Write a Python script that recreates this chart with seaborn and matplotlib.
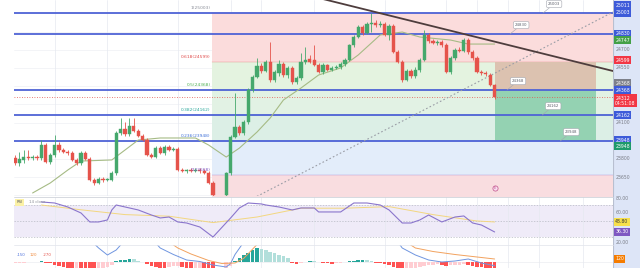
import matplotlib
matplotlib.use("Agg")
import matplotlib.pyplot as plt
import matplotlib.transforms as mtransforms
import numpy as np
import seaborn as sns

sns.set_theme(style="white")
plt.rcParams["font.family"] = ["DejaVu Sans"]

# ---------------- daily candles (sessions 46 and 47 are empty) ----------------
candle_idx = list(range(0, 46)) + list(range(48, 110))
opens = [23808, 23767, 23792, 23816, 23808, 23816, 23808, 23915, 23775, 23833,
         23915, 23874, 23858, 23849, 23792, 23767, 23849, 23800, 23627, 23602,
         23635, 23627, 23627, 23684, 24014, 24047, 24006, 24072, 24031, 23989,
         23956, 23833, 23816, 23890, 23849, 23899, 23874, 23882, 23709, 23701,
         23709, 23701, 23709, 23701, 23684, 23602,
         23503, 23684, 23981, 24064, 24014, 24105, 24368, 24476, 24566, 24525,
         24599, 24451, 24508, 24583, 24492, 24550, 24434, 24467, 24599, 24624,
         24616, 24574, 24517, 24574, 24533, 24550, 24558, 24583, 24616, 24739,
         24805, 24888, 24838, 24912, 24920, 24904, 24912, 24822, 24896, 24682,
         24599, 24451, 24525, 24484, 24533, 24616, 24822, 24772, 24756, 24764,
         24739, 24517, 24632, 24698, 24690, 24780, 24682, 24632, 24517, 24508,
         24492, 24410]
closes = [23767, 23800, 23816, 23808, 23816, 23808, 23915, 23775, 23833, 23915,
          23874, 23858, 23849, 23792, 23767, 23849, 23800, 23627, 23602, 23635,
          23627, 23635, 23684, 24014, 24047, 24006, 24072, 24031, 23989, 23956,
          23833, 23816, 23890, 23849, 23899, 23874, 23882, 23709, 23701, 23709,
          23701, 23709, 23701, 23684, 23602, 23503,
          23684, 23981, 24064, 24014, 24105, 24368, 24476, 24566, 24525, 24599,
          24451, 24517, 24583, 24492, 24550, 24434, 24467, 24599, 24616, 24599,
          24574, 24517, 24574, 24533, 24550, 24558, 24583, 24616, 24739, 24805,
          24888, 24838, 24912, 24920, 24904, 24912, 24822, 24896, 24682, 24599,
          24451, 24525, 24484, 24533, 24616, 24822, 24772, 24756, 24764, 24739,
          24517, 24632, 24698, 24690, 24780, 24682, 24632, 24517, 24508, 24500,
          24410, 24312]
highs = [23833, 23858, 23874, 23874, 23833, 23833, 23956, 23932, 23849, 23998,
         23940, 23890, 23874, 23866, 23808, 23866, 23866, 23816, 23643, 23652,
         23652, 23643, 23701, 24031, 24138, 24105, 24138, 24138, 24047, 24006,
         23973, 23849, 23907, 23907, 23915, 23915, 23899, 23899, 23726, 23717,
         23726, 23726, 23726, 23717, 23701, 23619,
         23693, 23998, 24344, 24080, 24121, 24385, 24492, 24632, 24591, 24616,
         24764, 24533, 24616, 24599, 24566, 24566, 24484, 24673, 24723, 24657,
         24739, 24591, 24591, 24583, 24566, 24574, 24599, 24632, 24747, 24822,
         24904, 24904, 24929, 25003, 24945, 24937, 24929, 24912, 24912, 24698,
         24616, 24541, 24541, 24558, 24632, 24863, 24838, 24789, 24780, 24780,
         24756, 24649, 24714, 24723, 24797, 24797, 24698, 24649, 24533, 24525,
         24508, 24418]
lows = [23750, 23742, 23767, 23792, 23792, 23792, 23792, 23767, 23759, 23816,
        23858, 23849, 23833, 23783, 23750, 23750, 23792, 23619, 23586, 23594,
        23610, 23619, 23619, 23668, 23998, 23989, 23989, 24022, 23981, 23948,
        23825, 23808, 23808, 23841, 23833, 23866, 23866, 23701, 23693, 23684,
        23693, 23693, 23684, 23676, 23594, 23495,
        23495, 23668, 23973, 23998, 23998, 24088, 24352, 24467, 24508, 24517,
        24434, 24434, 24484, 24476, 24467, 24418, 24418, 24451, 24583, 24591,
        24566, 24508, 24500, 24525, 24525, 24541, 24541, 24566, 24607, 24723,
        24797, 24822, 24830, 24846, 24888, 24888, 24813, 24780, 24673, 24591,
        24434, 24443, 24467, 24467, 24517, 24607, 24756, 24747, 24739, 24723,
        24508, 24500, 24616, 24682, 24682, 24665, 24616, 24508, 24492, 24484,
        24401, 24294]

# moving average of the closes
ma_idx = [4, 8, 12, 15, 22, 25, 28, 33, 41, 44, 48, 51, 55, 58, 61, 65, 69, 74,
          78, 83, 88, 92, 99, 103, 109]
ma_val = [23520, 23602, 23709, 23783, 23792, 23874, 23956, 23973, 23973, 23915,
          23816, 23890, 24022, 24138, 24286, 24385, 24492, 24550, 24657, 24822,
          24846, 24805, 24780, 24747, 24747]

# horizontal levels and their callouts
hline_prices = [25003, 24830, 24368, 24162, 23948]
callout_idx = [120.0, 112.5, 111.8, 119.8, 123.9]

# fibonacci retracement
fib_ratios = ["1", "0.618", "0.5", "0.382", "0.236", "0", "-0.236"]
fib_prices = [25003, 24599, 24368, 24162, 23948, 23668, 23353]
fib_start = 44.8
fib_fill = ["#fbdcdc", "#e4f3e0", "#e2f2e4", "#dcefe6", "#e3edfa", "#f9dde0"]
fib_text = ["#8a8d97", "#e04a4a", "#4caf50", "#26a69a", "#3f6fd8", "#7e57c2", "#e04a4a"]

# trend lines (index, price)
down_line = [(60, 25208), (136, 24524)]
up_dotted = [(53.4, 23462), (135.9, 25011)]

# short position tool
pos_start, pos_end = 109, 132
pos_entry, pos_stop, pos_target = 24368, 24599, 23948

# RSI and its moving average
rsi_idx = [6, 9, 12, 15, 17, 19, 21, 22, 23, 26, 28, 31, 33, 35, 37, 39, 42, 45,
           49, 51, 53, 56, 57, 60, 63, 65, 68, 69, 74, 77, 80, 83, 85, 88, 90, 92,
           94, 97, 100, 102, 104, 106, 109]
rsi_val = [73.8, 72.5, 67.5, 60.0, 48.8, 48.8, 51.3, 63.8, 70.0, 66.3, 63.8, 57.5,
           53.8, 55.0, 48.8, 47.5, 42.5, 30.0, 53.8, 66.3, 72.5, 71.3, 70.0, 67.5,
           63.8, 66.3, 66.3, 61.3, 61.3, 72.5, 72.5, 70.0, 63.8, 47.5, 47.5, 51.3,
           57.5, 48.8, 55.0, 56.3, 47.5, 45.0, 36.3]
rsi_ma_idx = [6, 15, 25, 35, 45, 55, 65, 75, 85, 95, 105, 109]
rsi_ma_val = [70, 64, 58, 56, 48, 55, 66, 66, 68, 58, 50, 48.8]

# MACD histogram (one value per candle) and lines
macd_hist = [-40, -30, -20, -10, 10, 20, 30, -20, -30, -120, -160, -200, -240, -260,
             -230, -300, -340, -380, -400, -360, -250, -180, -100, 40, 80, 100, 120,
             110, 60, 20, -80, -150, -200, -230, -260, -200, -160, -150, -180, -220,
             -260, -240, -230, -250, -300, -350,
             -300, -150, 60, 180, 280, 380, 500, 560, 520, 480, 420, 360, 300, 240,
             180, -40, -60, -30, 20, 40, 30, 10, -30, -50, -60, -40, -20, 20, 30, 60,
             90, 100, 80, 60, -20, -40, -60, -120, -200, -260, -300, -280, -250,
             -220, -180, -150, -120, -100, -90, -110, -140, -130, -110, -100, -90,
             -120, -160, -190, -210, -230, -250, -270]
macd_idx = [0, 10, 17, 19, 21, 23, 24, 26, 29, 31, 33, 36, 39, 42, 45, 48, 49, 50,
            52, 54, 60, 70, 80, 85, 88, 91, 94, 97, 100, 103, 106, 109]
macd_val = [1400, 1200, 900, 560, 280, 480, 680, 1100, 1300, 950, 560, 300, 80, 20,
            -120, -200, -60, 300, 800, 1300, 1800, 1500, 1700, 1300, 560, 280, 80,
            0, 40, 120, -40, -150]
signal_idx = [0, 20, 30, 33, 37, 40, 44, 47, 50, 52, 55, 58, 65, 80, 86, 88, 91,
              95, 100, 105, 109]
signal_val = [1500, 1300, 1200, 1050, 560, 320, 60, -60, -40, 150, 700, 1200, 1600,
              1650, 1300, 900, 560, 420, 300, 200, 120]

price_ticks = [23500, 23650, 23800, 23950, 24100, 24250, 24400, 24550, 24700,
               24850, 25000]
rsi_ticks = [80, 60, 40, 20]
grid_x = [9, 21, 37, 49, 56, 68, 84, 98, 105, 112, 119, 129]

UP, DOWN = "#45a86c", "#e5534b"
BLUE_LINE = "#4f63d6"
XLIM = (-0.23, 135.9)
MAIN_LIM = (23495, 25110)
RSI_LIM = (20, 80)
MACD_LIM = (-240, 680)

fig = plt.figure(figsize=(6.4, 2.68), dpi=100)
fig.patch.set_facecolor("white")


def rect(x0, y0, x1, y1):
    return [x0 / 640, 1 - y1 / 268, (x1 - x0) / 640, (y1 - y0) / 268]


strip = fig.add_axes(rect(613, 0, 640, 268))
strip.set_facecolor("#dde5f7")
strip.set_xticks([]); strip.set_yticks([])
for s in strip.spines.values():
    s.set_visible(False)
strip.axvline(0, color="#b8bfd0", lw=0.8)

ax = fig.add_axes(rect(14, 0, 613, 196))
ax_rsi = fig.add_axes(rect(14, 197, 613, 245))
ax_macd = fig.add_axes(rect(14, 245, 613, 268))

for a in (ax, ax_rsi, ax_macd):
    a.set_xlim(*XLIM)
    a.set_xticks([]); a.set_yticks([])
    a.set_facecolor("white")
    for s in a.spines.values():
        s.set_visible(False)
    for gx in grid_x:
        a.axvline(gx, color="#e6e9f0", lw=0.5, zorder=0.8)

ax.set_ylim(*MAIN_LIM)
ax_rsi.set_ylim(*RSI_LIM)
ax_macd.set_ylim(*MACD_LIM)

fig.add_artist(plt.Line2D([14 / 640, 613 / 640], [1 - 196.5 / 268] * 2, color="#d0d3da", lw=0.6))
fig.add_artist(plt.Line2D([14 / 640, 613 / 640], [1 - 245 / 268] * 2, color="#e0e3ea", lw=0.5))

# ---- main pane ----
for t in price_ticks:
    ax.axhline(t, color="#eef0f4", lw=0.5, zorder=0.7)

for k in range(len(fib_prices) - 1):
    ax.fill_between([fib_start, XLIM[1]], fib_prices[k + 1], fib_prices[k],
                    color=fib_fill[k], lw=0, zorder=1)
for r, p, c in zip(fib_ratios, fib_prices, fib_text):
    ax.plot([fib_start, XLIM[1]], [p, p], color=c, lw=0.35, alpha=0.5, zorder=1.1)
    ax.text(fib_start - 0.4, p + 25, f"{r}({p})", color=c, fontsize=3.2,
            ha="right", va="bottom", zorder=6, clip_on=True)

# position tool
ax.fill_between([pos_start, pos_end], pos_entry, pos_stop, color="#dcc2b0", lw=0, zorder=1.5)
ax.fill_between([pos_start, pos_end], pos_target, pos_entry, color="#94d2b2", lw=0, zorder=1.5)

for p in hline_prices:
    ax.axhline(p, color=BLUE_LINE, lw=1.3, zorder=2)

ax.axhline(closes[-1], color="#e5534b", lw=0.6, ls=(0, (1, 2)), zorder=2.2)

(x0, y0), (x1, y1) = up_dotted
ax.plot([x0, x1], [y0, y1], color="#9a9da6", lw=0.8, ls=(0, (1.5, 2)), zorder=3)
(x0, y0), (x1, y1) = down_line
ax.plot([x0, x1], [y0, y1], color="#4e3d3d", lw=1.3, zorder=3)

sns.lineplot(x=ma_idx, y=ma_val, ax=ax, color="#a6bb85", lw=0.8, zorder=3.5, legend=False)
ax.set_xlim(*XLIM); ax.set_ylim(*MAIN_LIM)
ax.set_xlabel(""); ax.set_ylabel("")

o = np.array(opens); c = np.array(closes); h = np.array(highs); l = np.array(lows)
xi = np.array(candle_idx)
cols = np.where(c >= o, UP, DOWN)
ax.vlines(xi, l, h, colors=cols, lw=0.6, zorder=4)
ax.bar(xi, c - o, bottom=o, width=0.72, color=cols, edgecolor=cols, lw=0.3, zorder=4.5)

for x_c, p in zip(callout_idx, hline_prices):
    ax.annotate(f"{p}", xy=(x_c, p), xytext=(3.5, 5), textcoords="offset points",
                fontsize=2.8, color="#5d606b", ha="left", va="bottom",
                bbox=dict(boxstyle="round,pad=0.4", fc="white", ec="#a3a6af", lw=0.4),
                arrowprops=dict(arrowstyle="-", color="#a3a6af", lw=0.4,
                                shrinkA=0, shrinkB=0),
                zorder=12, annotation_clip=False)

ev_tr = mtransforms.blended_transform_factory(ax.transData, ax.transAxes)
ax.scatter([candle_idx[-1]], [0.04], transform=ev_tr, s=14, facecolor="#f8dcef",
           edgecolor="#c2508a", lw=0.5, zorder=8)
ax.text(candle_idx[-1], 0.04, "E", transform=ev_tr, fontsize=2.4, color="#c2508a",
        ha="center", va="center", zorder=9)


def axis_text(a, value, text, fc=None, tc="white", dy=0, fs=3.3):
    tr = mtransforms.blended_transform_factory(a.transAxes, a.transData)
    tr = tr + mtransforms.ScaledTranslation(2.2 / 100, dy / 100, fig.dpi_scale_trans)
    kw = {}
    if fc is not None:
        kw["bbox"] = dict(boxstyle="square,pad=0.3", fc=fc, ec="none")
    a.text(1, value, text, transform=tr, fontsize=fs, color=tc, ha="left",
           va="center", clip_on=False, zorder=20 if fc else 15,
           linespacing=1.0, **kw)


def tags_and_ticks(a, lim, height_px, tags, ticks, fmt, edge=2):
    """Draw colored value tags, then the plain tick labels that stay clear of them."""
    scale = height_px / (lim[1] - lim[0])
    spans = []
    for value, text, fc, tc, dy in tags:
        axis_text(a, value, text, fc=fc, tc=tc, dy=dy)
        half = 3.5 * (text.count("\n") + 1)
        spans.append(((value - lim[0]) * scale + dy, half))
    for t in ticks:
        ty = (t - lim[0]) * scale
        if ty < edge or ty > height_px - edge:
            continue
        if any(abs(ty - cy) < half + 3 for cy, half in spans):
            continue
        axis_text(a, t, fmt(t), tc="#7b7e88", dy=(2 if ty <= 0 else (-2 if ty >= height_px else 0)))


main_tags = [
    (up_dotted[1][1], f"{up_dotted[1][1]}", "#3d5bd9", "white", 7),
    (hline_prices[0], f"{hline_prices[0]}", "#3d5bd9", "white", 0),
    (hline_prices[1], f"{hline_prices[1]}", "#3d5bd9", "white", 0),
    (ma_val[-1], f"{ma_val[-1]}", "#43a047", "white", 4),
    (pos_stop, f"{pos_stop}", "#f23645", "white", 2),
    (pos_entry, f"{pos_entry}", "#7d808a", "white", 7),
    (hline_prices[2], f"{hline_prices[2]}", "#3d5bd9", "white", 0),
    (closes[-1], f"{closes[-1]}\n04:51:08", "#f23645", "white", -4),
    (hline_prices[3], f"{hline_prices[3]}", "#3d5bd9", "white", 0),
    (hline_prices[4], f"{hline_prices[4]}", "#3d5bd9", "white", 1),
    (pos_target, f"{pos_target}", "#1e9a6a", "white", -5),
]
tags_and_ticks(ax, MAIN_LIM, 196, main_tags, price_ticks, lambda t: f"{t}")

# ---- RSI pane ----
ax_rsi.axhspan(30, 70, color="#efebf8", lw=0, zorder=0.5)
for lvl in (70, 50, 30):
    ax_rsi.axhline(lvl, color="#b7bac4", lw=0.5, ls=(0, (2, 2)), zorder=1)
sns.lineplot(x=rsi_ma_idx, y=rsi_ma_val, ax=ax_rsi, color="#f3d77f", lw=0.7,
             zorder=2, legend=False)
sns.lineplot(x=rsi_idx, y=rsi_val, ax=ax_rsi, color="#8a75cc", lw=0.8, zorder=3,
             legend=False)
ax_rsi.set_xlim(*XLIM); ax_rsi.set_ylim(*RSI_LIM)
ax_rsi.set_xlabel(""); ax_rsi.set_ylabel("")
ax_rsi.text(0.004, 0.93, "RSI", transform=ax_rsi.transAxes, fontsize=2.8,
            color="#5d606b", va="top", ha="left",
            bbox=dict(boxstyle="square,pad=0.3", fc="#fbf1a6", ec="none"))
ax_rsi.text(0.025, 0.93, "14 close", transform=ax_rsi.transAxes, fontsize=2.8,
            color="#8a8d97", va="top", ha="left")
rsi_tags = [
    (rsi_ma_val[-1], f"{rsi_ma_val[-1]:.2f}", "#f7e04b", "#3a3a3a", 0),
    (rsi_val[-1], f"{rsi_val[-1]:.2f}", "#7e57c2", "white", 0),
]
tags_and_ticks(ax_rsi, RSI_LIM, 48, rsi_tags, rsi_ticks, lambda t: f"{t:.2f}", edge=-1)

# ---- MACD pane ----
hv = np.array(macd_hist)
prev = np.concatenate([[hv[0]], hv[:-1]])
hcols = np.where(hv >= 0, np.where(hv >= prev, "#26a69a", "#b2dfdb"),
                 np.where(hv < prev, "#ff5252", "#ffcdd2"))
ax_macd.bar(xi, hv, width=0.8, color=hcols, lw=0, zorder=2)
sns.lineplot(x=macd_idx, y=macd_val, ax=ax_macd, color="#6f95e0", lw=0.7, zorder=3,
             legend=False)
sns.lineplot(x=signal_idx, y=signal_val, ax=ax_macd, color="#f2a25e", lw=0.7,
             zorder=3, legend=False)
ax_macd.set_xlim(*XLIM); ax_macd.set_ylim(*MACD_LIM)
ax_macd.set_xlabel(""); ax_macd.set_ylabel("")
ax_macd.axhline(0, color="#e6e8ee", lw=0.4, zorder=1)
lx = 0.004
for txt, colr in ((f"{macd_val[-1]}", "#4a6fdc"), (f"{signal_val[-1]}", "#f08a3c"),
                  (f"{macd_hist[-1]}", "#e5534b")):
    ax_macd.text(lx, 0.57, txt, transform=ax_macd.transAxes, fontsize=2.8,
                 color=colr, va="center", ha="left", zorder=6)
    lx += 0.022
axis_text(ax_macd, signal_val[-1], f"{signal_val[-1]}", fc="#f57c00")

fig.savefig("out.png", dpi=100, facecolor="white")
